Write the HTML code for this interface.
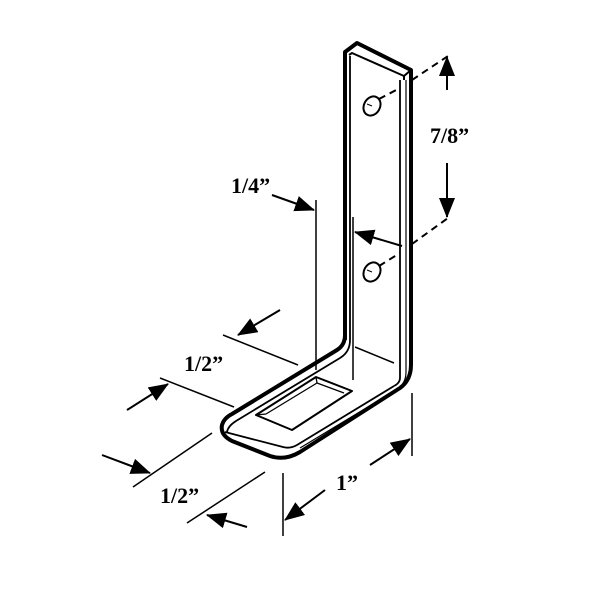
<!DOCTYPE html>
<html><head><style>body{margin:0;background:#fff}svg{display:block}text{font-family:"Liberation Serif",serif;font-weight:bold;font-size:22px;fill:#000}</style></head>
<body>
<svg width="600" height="600" viewBox="0 0 600 600" xmlns="http://www.w3.org/2000/svg">
<defs>
<marker id="b" markerWidth="20" markerHeight="16" refX="19" refY="8" orient="auto" markerUnits="userSpaceOnUse" viewBox="0 0 20 16"><path d="M0,0L20,8L0,16z" fill="#000"/></marker></defs>
<g fill="none" stroke="#000" stroke-linejoin="round">
<path d="M345,340 L345,52 L357,43 L411,70 L411,365 Q411,380 400,388 L300,452 Q285,461 270,456 L232,441 Q220,435 222,425 Q224,418 232,414 L337,350 Q345,345 345,335" stroke-width="4"/>
<path d="M350,56 L350,340 Q350,352 340,358 L236,421 Q228,426 227,432" stroke-width="1.8"/>
<path d="M349,55 L352,53 L404,76 L404,80 M404,76 L411,70" stroke-width="2"/>
<path d="M400,80 L400,378 Q400,383 394,386" stroke-width="1.8"/>
<path d="M406,80 L406,372 Q406,384 396,390 L300,448" stroke-width="1.2"/>
<path d="M225,432 L283,447 Q290,449 297,445 L394,386" stroke-width="1.8"/>
<path d="M353,217 L353,380 M355,347 L394,363" stroke-width="1.5"/>
<path d="M256,415 L316,377 L352,391 L292,430 Z" stroke-width="2"/>
<path d="M266,414 L317,383 L344,393 M256,415 L266,414 M316,377 L317,383" stroke-width="1.3"/>
<ellipse cx="372" cy="106" rx="8" ry="10" transform="rotate(30 372 106)" stroke-width="2"/>
<path d="M367,104 L372,106" stroke-width="1"/>
<ellipse cx="372" cy="272" rx="8" ry="10" transform="rotate(30 372 272)" stroke-width="2"/>
<path d="M367,270 L372,272" stroke-width="1"/>
<path d="M379,99 L400,88 M412,80 L448,56 M379,266 L400,253 M412,244 L448,218" stroke-width="2" stroke-dasharray="7,5"/>
<g stroke-width="1.5">
<path d="M316,200 L316,370"/>
<path d="M223,335 L298,365"/>
<path d="M160,378 L234,407"/>
<path d="M133,487 L212,433"/>
<path d="M187,523 L265,472"/>
<path d="M283,473 L283,536"/>
<path d="M412,393 L412,456"/>
</g>
<g stroke-width="2">
<path d="M447,90 L447,57" marker-end="url(#b)"/>
<path d="M447,163 L447,217" marker-end="url(#b)"/>
<path d="M402,246 L355,232" marker-end="url(#b)"/>
<path d="M272,195 L314,210" marker-end="url(#b)"/>
<path d="M280,310 L238,335" marker-end="url(#b)"/>
<path d="M127,410 L168,384" marker-end="url(#b)"/>
<path d="M102,455 L150,473" marker-end="url(#b)"/>
<path d="M247,527 L207,515" marker-end="url(#b)"/>
<path d="M325,490 L285,520" marker-end="url(#b)"/>
<path d="M370,465 L410,439" marker-end="url(#b)"/>
</g>
</g>
<text x="430" y="143">7/8”</text>
<text x="231" y="193">1/4”</text>
<text x="184" y="371">1/2”</text>
<text x="160" y="503">1/2”</text>
<text x="336" y="490">1”</text>
</svg>
</body></html>
